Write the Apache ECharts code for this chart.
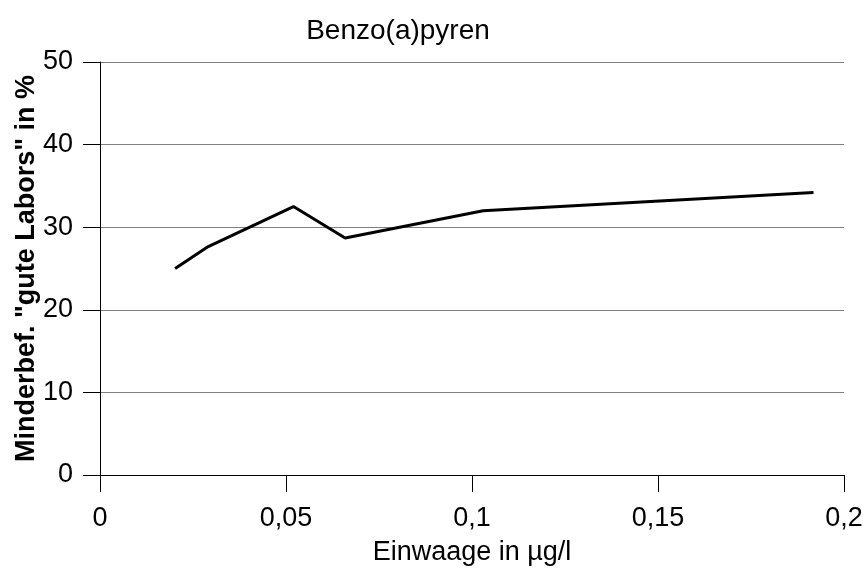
<!DOCTYPE html>
<html>
<head>
<meta charset="utf-8">
<script src="https://cdn.jsdelivr.net/npm/echarts@6/dist/echarts.min.js"></script>
<style>html,body{margin:0;padding:0;background:#fff}#c{width:867px;height:571px}</style>
</head>
<body>
<div id="c"></div>
<script>
var xValues = [0.0202, 0.0291, 0.0520, 0.0659, 0.1030, 0.1918];
var yValues = [25.0, 27.65, 32.5, 28.7, 32.0, 34.2];
var titleText = 'Benzo(a)pyren';
var xName = 'Einwaage in µg/l';
var yName = 'Minderbef. "gute Labors" in %';

var data = xValues.map(function (x, i) { return [x, yValues[i]]; });
var font = 'Liberation Sans, Arial, sans-serif';
var chart = echarts.init(document.getElementById('c'), null, {renderer: 'canvas'});
chart.setOption({
  animation: false,
  backgroundColor: '#fff',
  title: {
    text: titleText, left: 393, top: 12, textAlign: 'center',
    textStyle: {fontFamily: font, fontWeight: 'normal', fontSize: 28, color: '#000'}
  },
  grid: {left: 100, right: 23, top: 62, bottom: 96, containLabel: false, outerBoundsMode: 'none'},
  xAxis: {
    type: 'value', min: 0, max: 0.2, interval: 0.05,
    name: xName, nameLocation: 'middle', nameGap: 64, nameMoveOverlap: false,
    nameTextStyle: {fontFamily: font, fontSize: 27, color: '#000'},
    axisLine: {show: true, onZero: false, lineStyle: {color: '#000', width: 1}},
    axisTick: {show: true, length: 17, inside: false, lineStyle: {color: '#000'}},
    axisLabel: {fontFamily: font, fontSize: 27, color: '#000', margin: 30,
      formatter: function (v) { return String(+v.toFixed(2)).replace('.', ','); }},
    splitLine: {show: false}
  },
  yAxis: {
    type: 'value', min: 0, max: 50, interval: 10,
    name: yName, nameLocation: 'middle', nameGap: 60, nameRotate: 90, nameMoveOverlap: false,
    nameTextStyle: {fontFamily: font, fontSize: 27, fontWeight: 'bold', color: '#000'},
    axisLine: {show: true, lineStyle: {color: '#000', width: 1}},
    axisTick: {show: true, length: 17, inside: false, lineStyle: {color: '#000'}},
    axisLabel: {fontFamily: font, fontSize: 27, color: '#000', margin: 27},
    splitLine: {show: true, lineStyle: {color: '#808080', width: 1}}
  },
  series: [{
    type: 'line', data: data, showSymbol: false, symbol: 'none',
    lineStyle: {color: '#000', width: 3}, z: 5
  }]
});
</script>
</body>
</html>
